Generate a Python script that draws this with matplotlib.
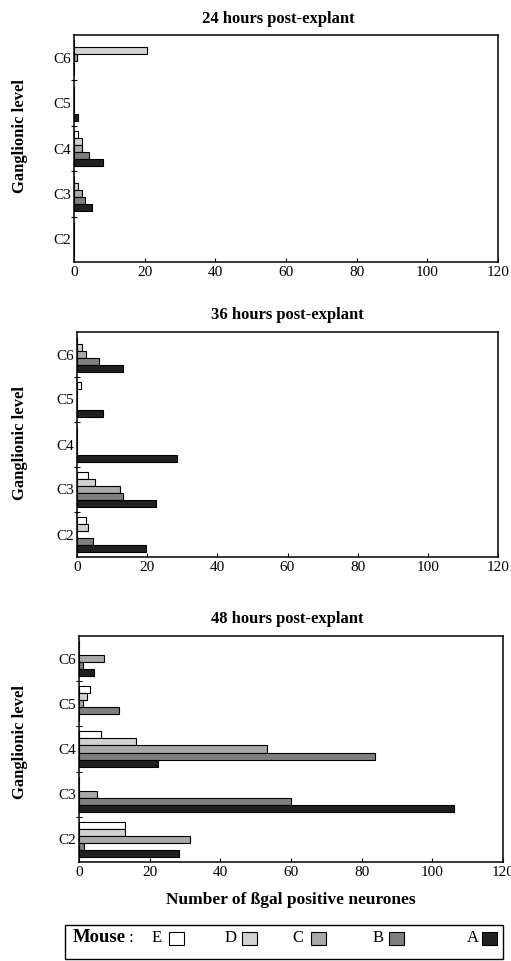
import matplotlib
matplotlib.use("Agg")
import matplotlib.pyplot as plt
from matplotlib.patches import Rectangle
import numpy as np

plt.rcParams['font.family'] = ['Liberation Serif', 'DejaVu Serif']

levels = ['C2', 'C3', 'C4', 'C5', 'C6']
series = ['E', 'D', 'C', 'B', 'A']
colors = ['#ffffff', '#d2d2d2', '#a8a8a8', '#7f7f7f', '#202020']

# values per series, ordered C2..C6
h24 = {
    'E': [0, 0, 1.2, 0, 0],
    'D': [0, 1.2, 2.3, 0, 20.6],
    'C': [0, 2.3, 2.3, 0, 0.8],
    'B': [0, 3.2, 4.3, 0, 0],
    'A': [0, 5.2, 8.1, 1.2, 0],
}
h36 = {
    'E': [2.5, 3.1, 0, 1.1, 0],
    'D': [3.2, 5.0, 0, 0, 1.5],
    'C': [0, 12.3, 0, 0, 2.7],
    'B': [4.6, 13.2, 0, 0, 6.2],
    'A': [19.6, 22.6, 28.6, 7.5, 13.2],
}
h48 = {
    'E': [13.1, 0, 6.2, 3.1, 0],
    'D': [13.1, 0, 16.1, 2.4, 0],
    'C': [31.4, 5.2, 53.3, 1.2, 7.2],
    'B': [1.4, 60.1, 83.9, 11.2, 1.2],
    'A': [28.4, 106.0, 22.3, 0, 4.3],
}
panels = [
    ('24 hours post-explant', h24),
    ('36 hours post-explant', h36),
    ('48 hours post-explant', h48),
]
xticks = [0, 20, 40, 60, 80, 100, 120]

W, H = 511, 961
fig = plt.figure(figsize=(W / 100, H / 100), dpi=100)

def fx(px):
    return px / W

def fy(py):
    return 1 - py / H

# axes boxes in pixels: left, top, right, bottom
boxes = [(74, 35, 498, 262), (77, 332, 498, 557), (79, 636, 503, 862)]
title_pos = [(278, 19), (287, 315), (287, 619)]
ylab_y = [136, 443, 742]

bh = 0.155
pos = np.arange(len(levels))

for k, ((title, data), (l, t, r, b)) in enumerate(zip(panels, boxes)):
    ax = fig.add_axes([fx(l), fy(b), fx(r) - fx(l), fy(t) - fy(b)])
    for j, s in enumerate(series):
        vals = data[s]
        ax.barh(pos + (2 - j) * bh, vals, height=bh, color=colors[j],
                edgecolor='black', linewidth=0.8)
    ax.set_xlim(0, 120)
    ax.set_ylim(-0.5, len(levels) - 0.5)
    ax.set_xticks(xticks)
    ax.set_xticklabels([str(v) for v in xticks], fontsize=11)
    ax.set_yticks(pos)
    ax.set_yticklabels(levels, fontsize=11)
    ax.set_yticks(pos[:-1] + 0.5, minor=True)
    ax.tick_params(axis='y', which='major', length=0, pad=2)
    ax.tick_params(axis='y', which='minor', length=4, direction='inout', width=0.8)
    ax.tick_params(axis='x', which='major', length=3, direction='in', width=0.8, pad=3)
    for sp in ax.spines.values():
        sp.set_linewidth(1.1)
    fig.text(fx(title_pos[k][0]), fy(title_pos[k][1]), title, ha='center', va='center',
             fontsize=12, fontweight='bold')
    fig.text(fx(20), fy(ylab_y[k]), 'Ganglionic level', rotation=90, ha='center',
             va='center', fontsize=12, fontweight='bold')
    if k == 2:
        ax.set_xlabel('Number of ßgal positive neurones', fontsize=12.5,
                      fontweight='bold', labelpad=9)

# legend box
fig.patches.append(Rectangle((fx(65), fy(959)), fx(503) - fx(65), fy(925) - fy(959),
                             transform=fig.transFigure, fill=False, edgecolor='black',
                             linewidth=1.0))
ly = 938
fig.text(fx(73), fy(ly), 'Mouse', ha='left', va='center', fontsize=13.5, fontweight='bold')
fig.text(fx(129), fy(ly), ':', ha='left', va='center', fontsize=12)
letter_x = [152, 225, 292, 373, 467]
box_x = [169, 242, 311, 389, 482]
for s, c, lx, bx in zip(series, colors, letter_x, box_x):
    fig.text(fx(lx), fy(ly), s, ha='left', va='center', fontsize=12)
    fig.patches.append(Rectangle((fx(bx), fy(ly + 7)), fx(15), 13 / H,
                                 transform=fig.transFigure, facecolor=c,
                                 edgecolor='black', linewidth=0.8))

fig.savefig('out.png', dpi=100)
